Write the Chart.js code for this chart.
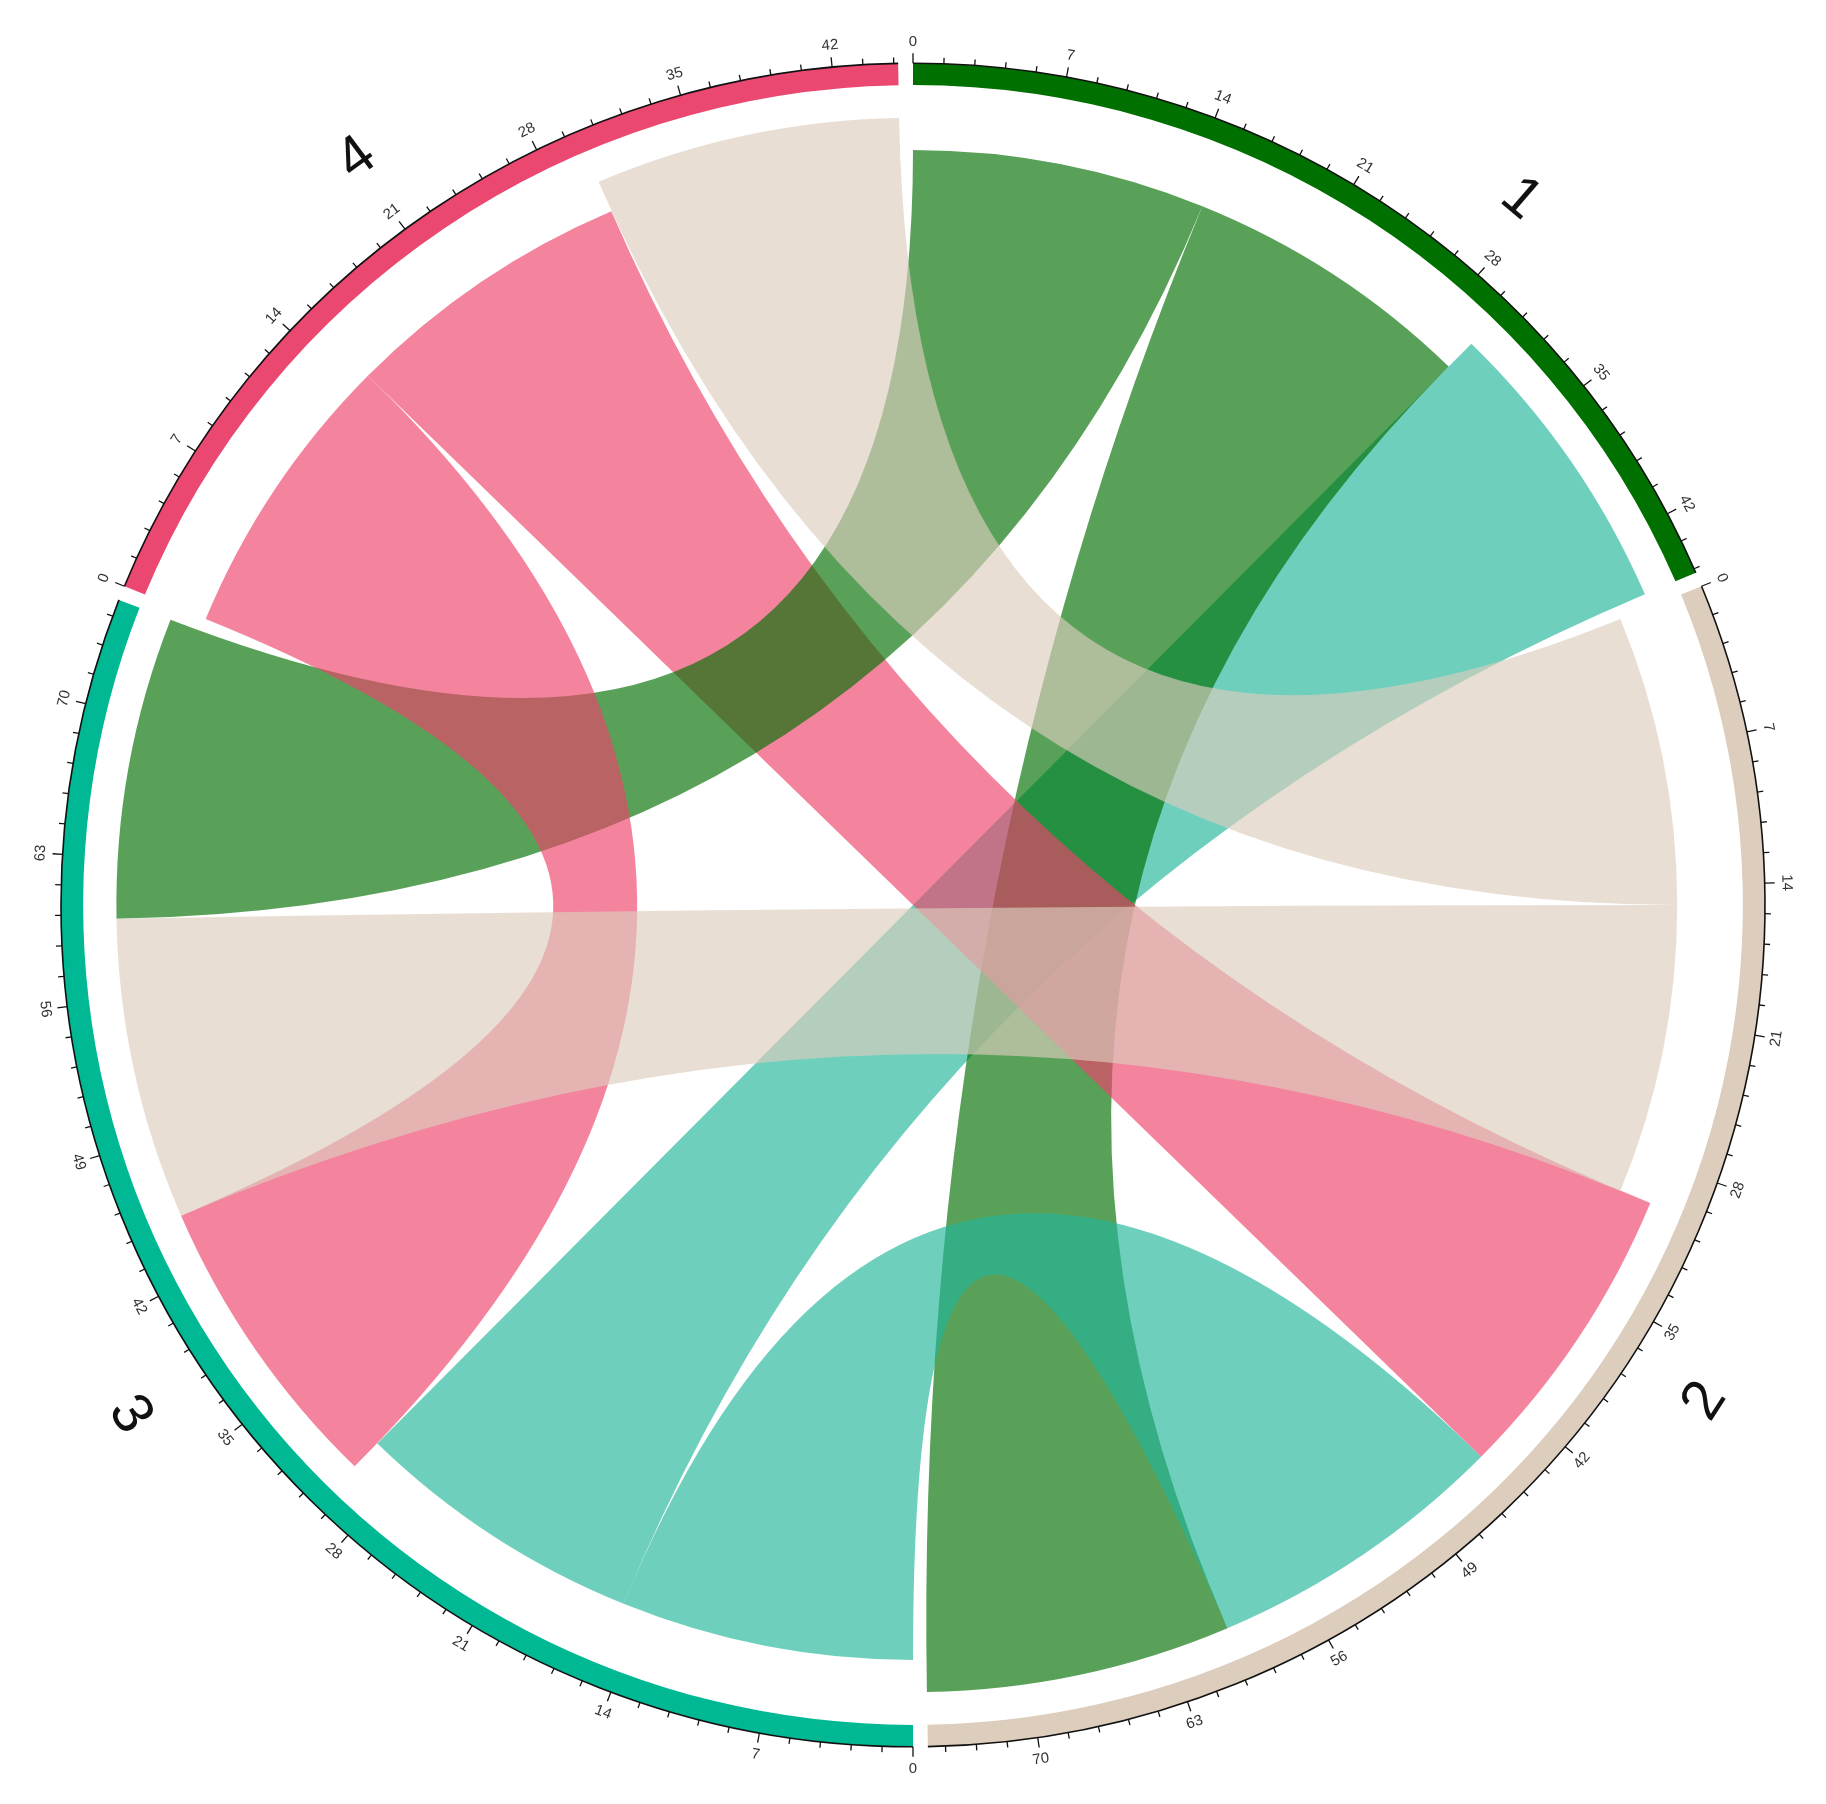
<!DOCTYPE html>
<html>
<head>
<meta charset="utf-8">
<script src="https://cdn.jsdelivr.net/npm/chart.js@4.4.1/dist/chart.umd.min.js"></script>
<style>
  html, body { margin: 0; padding: 0; background: #fff; }
</style>
</head>
<body>
<canvas id="chord" width="1826" height="1804"></canvas>
<script>
// sectors of the chord diagram
const sectors = ['1', '2', '3', '4'];
const sectorColors = ['#007000', '#dccdbd', '#00b894', '#ea4870'];
const ribbonColors = ['rgba(0,110,0,0.65)', 'rgba(220,204,189,0.65)',
  'rgba(34,182,154,0.65)', 'rgba(238,66,106,0.65)'];

// links (from -> to), listed in the order they are painted
const linkFrom  = ['3', '1', '3', '4', '1', '4', '2', '2'];
const linkTo    = ['1', '2', '2', '2', '3', '3', '4', '3'];
const linkValue = [15, 15, 15, 15, 15, 15, 15, 15];

// axis ticks: labelled every 7, four minor ticks in between
const tickStep = 7;
const minorPerMajor = 5;

const gapDeg = 1;
const squashY = 0.988;   // the figure is a touch flatter than round

// sector totals = sum of both link ends
var totals = sectors.map(function (s) {
  var t = 0;
  for (var i = 0; i < linkValue.length; ++i) {
    if (linkFrom[i] === s) t += linkValue[i];
    if (linkTo[i] === s) t += linkValue[i];
  }
  return t;
});

// where each link end sits inside its sector (in value units)
var ends = {};
sectors.forEach(function (s) {
  var outs = [], ins = [];
  for (var i = 0; i < linkValue.length; ++i) {
    if (linkFrom[i] === s) outs.push(i);
    if (linkTo[i] === s) ins.push(i);
  }
  outs.sort(function (a, b) { return sectors.indexOf(linkTo[b]) - sectors.indexOf(linkTo[a]); });
  ins.sort(function (a, b) { return sectors.indexOf(linkFrom[b]) - sectors.indexOf(linkFrom[a]); });
  var pos = 0;
  outs.forEach(function (i) { ends[i + 'f'] = [pos, pos + linkValue[i]]; pos += linkValue[i]; });
  ins.forEach(function (i) { ends[i + 't'] = [pos, pos + linkValue[i]]; pos += linkValue[i]; });
});

// ring = sectors with a transparent gap after each one
var sum = totals.reduce(function (a, b) { return a + b; }, 0);
var gapUnits = gapDeg * sum / (360 - sectors.length * gapDeg);
var ringData = [], ringColors = [];
for (var i = 0; i < sectors.length; ++i) {
  ringData.push(totals[i], gapUnits);
  ringColors.push(sectorColors[i], 'rgba(0,0,0,0)');
}

function drawText(ctx, txt, x, y, a) {
  // a = canvas angle of the radial direction; keep text readable
  var rot = a + Math.PI / 2;
  while (rot > Math.PI) rot -= 2 * Math.PI;
  while (rot < -Math.PI) rot += 2 * Math.PI;
  if (rot > Math.PI / 2 || rot < -Math.PI / 2) rot += Math.PI;
  ctx.save();
  ctx.translate(x, y);
  ctx.rotate(rot);
  ctx.fillText(txt, 0, 0);
  ctx.restore();
}

const chordPlugin = {
  id: 'chord',
  beforeDatasetsDraw(chart) {
    var arc = chart.getDatasetMeta(0).data[0];
    var ctx = chart.ctx;
    ctx.save();
    ctx.translate(arc.x, arc.y);
    ctx.scale(1, squashY);
    ctx.translate(-arc.x, -arc.y);
  },
  afterDatasetsDraw(chart) {
    var ctx = chart.ctx;
    var arcs = chart.getDatasetMeta(0).data;
    var cx = arcs[0].x, cy = arcs[0].y;
    var rOut = arcs[0].outerRadius;
    var rSrc = rOut * 0.897, rTgt = rOut * 0.935;

    function ang(si, u) {
      var a = arcs[si * 2];
      return a.startAngle + (a.endAngle - a.startAngle) * u / totals[si];
    }

    // ribbons
    for (var i = 0; i < linkValue.length; ++i) {
      var fi = sectors.indexOf(linkFrom[i]), ti = sectors.indexOf(linkTo[i]);
      var s0 = ang(fi, ends[i + 'f'][0]), s1 = ang(fi, ends[i + 'f'][1]);
      var t0 = ang(ti, ends[i + 't'][0]), t1 = ang(ti, ends[i + 't'][1]);
      ctx.beginPath();
      ctx.arc(cx, cy, rSrc, s0, s1);
      ctx.quadraticCurveTo(cx, cy, cx + rTgt * Math.cos(t0), cy + rTgt * Math.sin(t0));
      ctx.arc(cx, cy, rTgt, t0, t1);
      ctx.quadraticCurveTo(cx, cy, cx + rSrc * Math.cos(s0), cy + rSrc * Math.sin(s0));
      ctx.closePath();
      ctx.fillStyle = ribbonColors[fi];
      ctx.fill();
    }

    // axes with ticks
    ctx.strokeStyle = '#111';
    ctx.fillStyle = '#333';
    ctx.font = '15px "Liberation Sans", Arial, sans-serif';
    ctx.textAlign = 'center';
    ctx.textBaseline = 'middle';
    var minor = tickStep / minorPerMajor;
    for (var si = 0; si < sectors.length; ++si) {
      ctx.lineWidth = 1.6;
      ctx.beginPath();
      ctx.arc(cx, cy, rOut, ang(si, 0), ang(si, totals[si]));
      ctx.stroke();
      ctx.lineWidth = 1.3;
      for (var k = 0; k * minor <= totals[si] + 1e-6; ++k) {
        var a = ang(si, k * minor);
        var major = k % minorPerMajor === 0;
        var len = major ? 10 : 6;
        ctx.beginPath();
        ctx.moveTo(cx + rOut * Math.cos(a), cy + rOut * Math.sin(a));
        ctx.lineTo(cx + (rOut + len) * Math.cos(a), cy + (rOut + len) * Math.sin(a));
        ctx.stroke();
        if (major) {
          var rl = rOut + 22;
          drawText(ctx, String(Math.round(k * minor)), cx + rl * Math.cos(a), cy + rl * Math.sin(a), a);
        }
      }
    }

    // sector names
    var shift = [7, -1, 1, -2];
    ctx.fillStyle = '#111';
    ctx.font = '58px "Liberation Sans", Arial, sans-serif';
    for (var si = 0; si < sectors.length; ++si) {
      var a = ang(si, totals[si] / 2) + shift[si] * Math.PI / 180;
      var rl = rOut + 86;
      drawText(ctx, sectors[si], cx + rl * Math.cos(a), cy + rl * Math.sin(a), a);
    }
    ctx.restore();
  }
};

new Chart('chord', {
  type: 'doughnut',
  data: {
    labels: ringData.map(function (d, i) { return i % 2 ? '' : sectors[i / 2]; }),
    datasets: [{
      data: ringData,
      backgroundColor: ringColors,
      borderWidth: 0,
      hoverOffset: 0
    }]
  },
  options: {
    responsive: false,
    animation: false,
    events: [],
    radius: 852,
    cutout: '97.4%',
    layout: { padding: { left: 0, right: 0, top: 6, bottom: 0 } },
    plugins: {
      legend: { display: false },
      tooltip: { enabled: false }
    }
  },
  plugins: [chordPlugin]
});
</script>
</body>
</html>
